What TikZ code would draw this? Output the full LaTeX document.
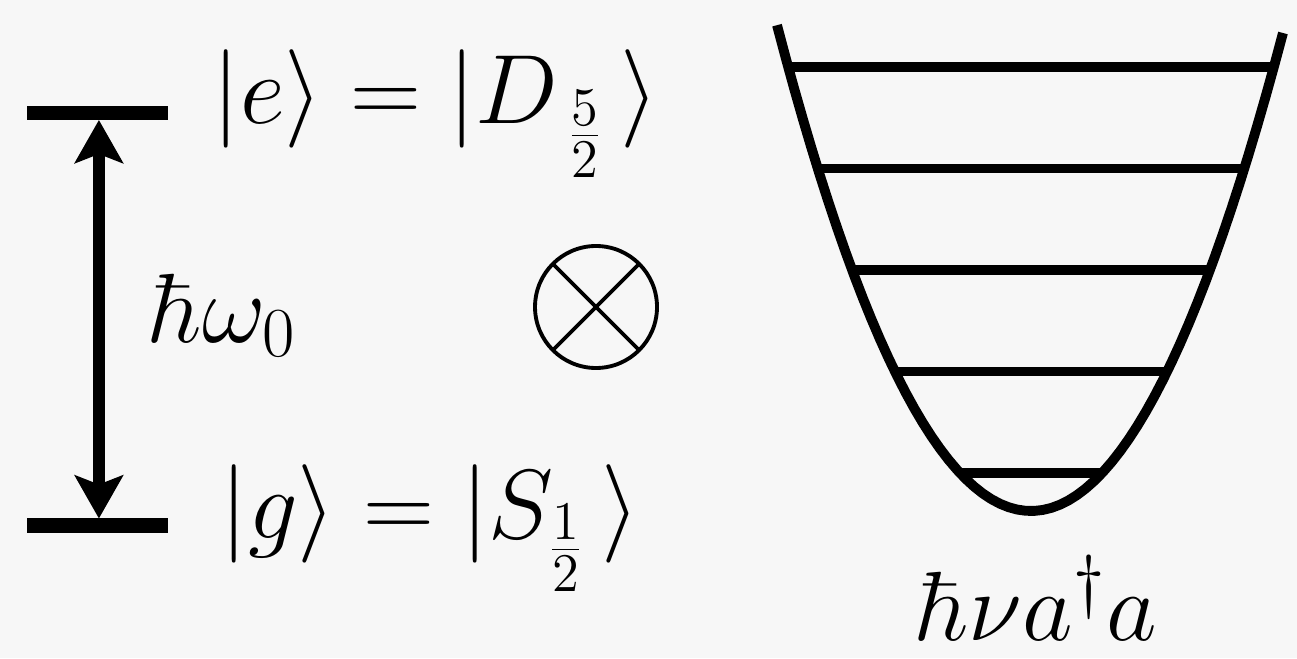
\RequirePackage{fix-cm}
\documentclass[tikz,border=0pt]{standalone}
\usepackage{tikz}
\usetikzlibrary{arrows.meta, positioning, calc}
\DeclareMathSizes{28}{28}{20}{15.5}

\begin{document}
\begin{tikzpicture}[
  font=\fontsize{28}{34}\selectfont,
  lvl/.style={line width=4pt},
  osc/.style={line width=2.8pt},
  lbl/.style={inner sep=0pt, anchor=base west},
  gap/.style={line width=3.4pt, {Stealth[length=4.3mm, width=4.8mm, inset=0.9mm]}-{Stealth[length=4.3mm, width=4.8mm, inset=0.9mm]}}
]
\useasboundingbox[fill=black!3] (0,0) rectangle (12.97,6.58);
% two-level atom
\draw[lvl] (0.27,5.45) -- (1.68,5.45) coordinate[pos=0.51] (e);
\draw[lvl] (0.27,1.325) -- (1.68,1.325) coordinate[pos=0.51] (g);
\draw[gap, shorten <=0.07cm, shorten >=0.07cm] (g) -- (e);
\node[lbl] (eket) at (2.12,5.34) {$|e\rangle = |D_{\,\frac{5}{2}}\,\rangle$};
\node[lbl] (gket) at (2.20,1.20) {$|g\rangle = |S_{\frac{1}{2}}\,\rangle$};
\node[lbl] (omega) at (1.50,3.16) {$\hbar\omega_0$};
% tensor product
\node[draw, circle, minimum size=1.22cm, inner sep=0pt, line width=1.1pt,
  path picture={\draw[line width=1.1pt] (path picture bounding box.south west) -- (path picture bounding box.north east)
    (path picture bounding box.north west) -- (path picture bounding box.south east);}] (ox) at (5.96,3.51) {};
% harmonic trap
\draw[osc] plot[domain=-2.54:2.52, samples=60] ({10.31+\x},{1.47+0.753*\x*\x});
\foreach \y/\w in {1.85/0.71, 2.865/1.361, 3.88/1.789, 4.895/2.133, 5.91/2.428}
  \draw[osc] ({10.31-\w},\y) -- ({10.31+\w},\y);
\node[anchor=base, inner sep=0pt] (ham) at (10.37,0.18) {$\hbar\nu a^\dagger a$};
\end{tikzpicture}
\end{document}
